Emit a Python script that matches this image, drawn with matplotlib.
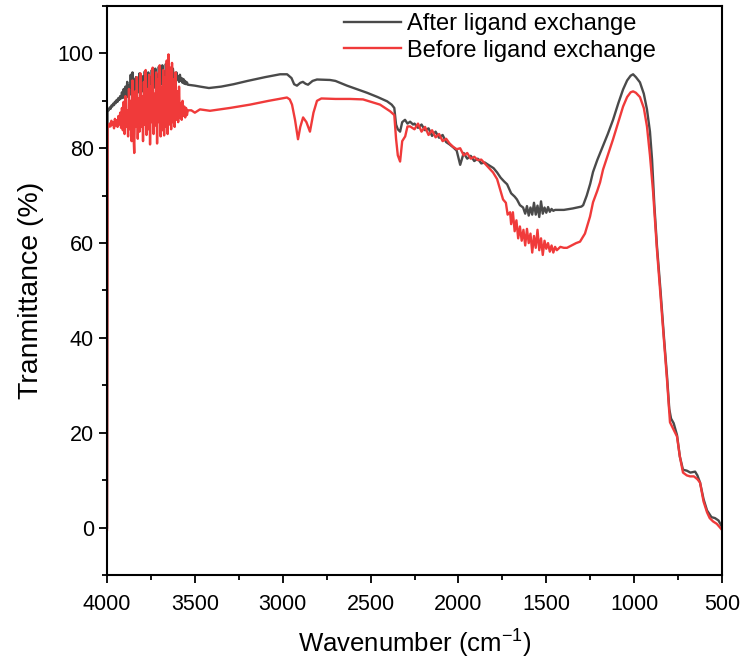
import matplotlib
matplotlib.use("Agg")
import matplotlib.pyplot as plt
import numpy as np

plt.rcParams['font.family'] = ['Liberation Sans', 'DejaVu Sans']
plt.rcParams['mathtext.fontset'] = 'custom'
plt.rcParams['mathtext.rm'] = 'Liberation Sans'
plt.rcParams['mathtext.it'] = 'Liberation Sans:italic'

# ---- After ligand exchange (grey) ----
after_start_wn = [4000, 3997]
after_start_t = [0.0, 88.0]

after_noise_wn = list(range(3990, 3539, -5))
after_noise_t = [88.0, 88.6, 88.3, 89.0, 88.8, 89.4, 89.1, 89.8, 89.5, 90.2,
                 89.8, 90.6, 90.2, 91.0, 90.5, 91.8, 90.6, 92.5, 90.8, 93.0,
                 91.0, 94.0, 90.8, 93.2, 91.5, 95.5, 91.2, 96.0, 92.0, 94.5,
                 91.5, 95.0, 92.2, 94.2, 91.8, 95.8, 92.5, 94.0, 92.0, 95.2,
                 92.5, 96.2, 92.8, 94.5, 92.2, 96.0, 93.0, 95.0, 92.6, 96.5,
                 93.2, 95.2, 92.8, 96.8, 93.5, 95.5, 93.0, 97.2, 93.8, 96.0,
                 93.5, 97.5, 94.0, 96.2, 93.6, 97.8, 94.2, 96.5, 94.0, 97.0,
                 94.5, 96.2, 94.0, 96.8, 94.6, 95.6, 94.2, 96.0, 94.5, 95.2,
                 94.0, 95.5, 94.2, 94.8, 93.8, 94.6, 93.6, 94.2, 93.5, 93.9,
                 93.4]

after_mid_wn = [3500, 3470, 3420, 3350, 3280, 3200, 3100, 3015, 2975, 2950,
                2935, 2919, 2900, 2885, 2870, 2856, 2830, 2805, 2731, 2700,
                2634, 2580, 2520, 2460, 2406, 2380, 2365, 2355, 2345, 2332,
                2320, 2304, 2290, 2275, 2258]
after_mid_t = [93.2, 93.0, 92.7, 93.0, 93.5, 94.2, 95.0, 95.6, 95.6, 94.8,
               93.5, 93.2, 93.8, 94.0, 93.6, 93.4, 94.2, 94.5, 94.4, 94.2,
               93.2, 92.5, 91.7, 90.8, 89.9, 89.2, 88.5, 85.0, 84.0, 83.5,
               85.5, 86.0, 85.2, 85.6, 85.0]

after_slope_wn = list(range(2250, 1849, -20))
after_slope_t = [85.2, 84.3, 85.0, 83.8, 84.2, 82.6, 83.5, 82.2, 82.8, 81.3,
                 80.8, 80.2, 79.5, 76.5, 79.0, 77.8, 78.4, 77.3, 77.8, 76.8,
                 77.0]

after_band_wn = [1830, 1800, 1780, 1760, 1740, 1723, 1700, 1680, 1667, 1650,
                 1632, 1620, 1610, 1600, 1590, 1580, 1570, 1560, 1550, 1540,
                 1530, 1520, 1510, 1500, 1490, 1480, 1470, 1460, 1450]
after_band_t = [76.5, 75.8, 74.9, 73.8, 73.0, 72.4, 70.5, 69.8, 69.2, 68.0,
                67.5, 66.2, 67.8, 65.8, 67.5, 66.0, 68.5, 66.0, 67.9, 65.5,
                68.8, 66.2, 67.5, 66.4, 67.6, 66.6, 67.2, 66.8, 67.0]

after_end_wn = [1400, 1350, 1300, 1290, 1270, 1250, 1234, 1210, 1177, 1150,
                1120, 1090, 1063, 1040, 1020, 1006, 990, 967, 945, 927,
                910, 898, 885, 870, 850, 830, 813, 800, 790, 775,
                756, 740, 722, 700, 680, 653, 640, 625, 605, 585,
                560, 540, 520, 505, 500]
after_end_t = [67.0, 67.3, 67.7, 68.0, 70.0, 72.5, 75.0, 77.5, 80.5, 83.0,
               86.0, 89.5, 92.4, 94.3, 95.3, 95.6, 95.0, 93.9, 91.5, 88.2,
               83.5, 77.6, 68.0, 59.3, 50.0, 40.0, 32.0, 25.0, 23.0, 22.0,
               19.5, 15.0, 12.2, 12.0, 11.6, 11.8, 11.0, 9.5, 6.0, 3.6,
               2.2, 2.0, 1.5, 0.5, 0.0]

# ---- Before ligand exchange (red) ----
before_start_wn = [4000, 3997]
before_start_t = [-0.5, 85.0]

before_noise_wn = list(range(3990, 3539, -5))
before_noise_t = [84.5, 85.2, 84.6, 85.8, 84.9, 85.5, 84.2, 86.2, 84.8, 85.9,
                  84.5, 86.8, 85.0, 87.5, 84.3, 88.5, 83.8, 89.8, 83.0, 91.0,
                  84.5, 88.0, 82.5, 92.5, 84.0, 90.0, 81.5, 94.3, 83.5, 79.0,
                  92.0, 84.5, 95.0, 82.0, 90.5, 83.5, 95.8, 84.5, 91.0, 81.5,
                  94.0, 85.0, 96.5, 82.8, 92.5, 84.0, 95.5, 80.8, 93.0, 85.5,
                  97.0, 83.0, 91.5, 84.8, 96.0, 81.0, 94.5, 85.5, 97.5, 82.5,
                  93.0, 83.8, 96.5, 82.7, 95.0, 84.5, 98.5, 83.0, 99.8, 85.0,
                  97.0, 84.0, 98.0, 85.5, 94.5, 84.5, 96.0, 86.0, 92.0, 85.5,
                  93.0, 86.5, 89.5, 86.0, 90.0, 86.8, 88.8, 86.5, 88.5, 87.0,
                  88.0]

before_mid_wn = [3520, 3500, 3471, 3414, 3300, 3186, 3080, 2976, 2960, 2947,
                 2930, 2913, 2900, 2884, 2865, 2845, 2825, 2805, 2780, 2700,
                 2617, 2543, 2446, 2389, 2365, 2355, 2345, 2332, 2320, 2303,
                 2290, 2275]
before_mid_t = [88.0, 87.5, 88.2, 87.9, 88.5, 89.2, 90.0, 90.7, 90.3, 89.2,
                86.0, 81.9, 84.5, 86.5, 85.5, 83.5, 87.5, 90.0, 90.5, 90.4,
                90.4, 90.3, 89.2, 87.8, 87.0, 82.0, 78.5, 77.2, 81.5, 82.5,
                84.6, 84.6]

before_slope_wn = list(range(2250, 1849, -20))
before_slope_t = [84.0, 85.2, 83.5, 84.5, 82.8, 83.8, 82.3, 83.0, 81.5, 82.0,
                  81.0, 80.3, 79.8, 80.0, 78.5, 79.0, 77.8, 78.2, 77.5, 77.6,
                  76.8]

before_band_wn = [1830, 1803, 1780, 1760, 1746, 1730, 1720, 1706, 1700, 1690,
                  1680, 1670, 1660, 1650, 1640, 1630, 1620, 1610, 1600, 1590,
                  1580, 1570, 1560, 1550, 1540, 1530, 1520, 1510, 1500, 1490,
                  1480, 1470, 1460, 1450, 1440, 1420]
before_band_t = [76.0, 74.9, 73.5, 71.0, 69.2, 68.5, 66.0, 66.5, 64.0, 66.5,
                 62.5, 64.8, 61.0, 63.5, 60.5, 62.8, 59.5, 63.0, 60.0, 62.0,
                 58.0, 61.5, 59.0, 62.8, 58.5, 61.0, 57.5, 60.5, 58.8, 60.0,
                 58.2, 59.5, 58.0, 59.2, 58.5, 59.2]

before_end_wn = [1400, 1382, 1350, 1330, 1308, 1280, 1251, 1234, 1210, 1194,
                 1177, 1150, 1120, 1090, 1063, 1040, 1020, 1006, 990, 967,
                 945, 927, 910, 892, 880, 870, 850, 830, 813, 800,
                 796, 780, 756, 740, 722, 700, 682, 660, 640, 625,
                 605, 585, 570, 551, 530, 511, 500]
before_end_t = [59.0, 59.0, 59.6, 60.0, 60.3, 62.0, 65.6, 68.6, 71.0, 72.8,
                75.5, 78.5, 81.9, 85.5, 88.8, 90.8, 91.8, 92.0, 91.7, 90.8,
                88.5, 84.6, 78.5, 70.7, 64.0, 58.5, 49.0, 39.5, 31.2, 24.5,
                22.2, 21.0, 19.2, 15.0, 11.6, 11.0, 10.8, 10.8, 10.2, 9.5,
                5.5, 3.2, 2.0, 1.3, 0.8, 0.0, -0.5]

after_wn = after_start_wn + after_noise_wn + after_mid_wn + after_slope_wn + after_band_wn + after_end_wn
after_t = after_start_t + after_noise_t + after_mid_t + after_slope_t + after_band_t + after_end_t
before_wn = before_start_wn + before_noise_wn + before_mid_wn + before_slope_wn + before_band_wn + before_end_wn
before_t = before_start_t + before_noise_t + before_mid_t + before_slope_t + before_band_t + before_end_t

fig = plt.figure(figsize=(7.44, 6.67), dpi=100)
ax = fig.add_axes([107 / 744, 1 - 575 / 667, 615 / 744, 569 / 667])

ax.plot(after_wn, after_t, color='#4a4a4a', lw=1.7, label='After ligand exchange')
ax.plot(before_wn, before_t, color='#f03a3a', lw=1.7, label='Before ligand exchange')

ax.set_xlim(4000, 500)
ax.set_ylim(-10, 110)
ax.set_xticks(np.arange(4000, 499, -500))
ax.set_xticks(np.arange(3750, 500, -500), minor=True)
ax.set_yticks(np.arange(0, 101, 20))
ax.set_yticks(np.arange(-10, 111, 20), minor=True)

ax.tick_params(which='both', direction='out', top=False, right=False,
               width=1.3, labelsize=15.5)
ax.tick_params(which='major', length=6)
ax.tick_params(which='minor', length=3.5)
ax.tick_params(axis='x', which='major', pad=8)
for s in ax.spines.values():
    s.set_linewidth(1.5)

ax.set_xlabel('Wavenumber (cm$^{-1}$)', fontsize=18.5, labelpad=9)
ax.set_ylabel('Tranmittance (%)', fontsize=20.5, labelpad=10)

ax.legend(loc='upper left', bbox_to_anchor=(344 / 744, 1 - 13 / 667),
          bbox_transform=fig.transFigure, frameon=False, fontsize=17,
          handlelength=2.4, handletextpad=0.25, labelspacing=0.2,
          borderpad=0, borderaxespad=0)

fig.savefig('out.png', dpi=100)
